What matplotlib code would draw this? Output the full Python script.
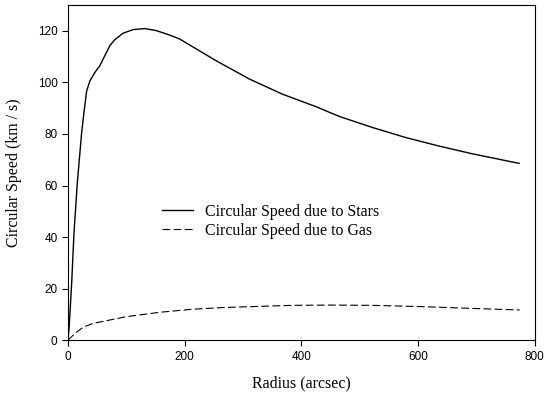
import numpy as np
import matplotlib.pyplot as plt

# rotation curve values
r_stars = [0, 2, 6.3, 10.3, 16, 23.4, 27.4, 32, 37.6, 46.2, 54.7, 63.2, 71.8, 80.3, 94.5,
           111.6, 131.6, 151.6, 174, 191, 254, 311, 368, 425, 465, 522, 579, 636, 693, 773]
v_stars = [0, 5, 22, 41.6, 61, 80.5, 88.3, 96.7, 100.6, 103.9, 106.5, 110.4, 114.3, 116.6, 119.1,
           120.5, 120.9, 120.1, 118.4, 116.9, 108.4, 101.3, 95.4, 90.6, 86.8, 82.5, 78.6, 75.3, 72.3, 68.6]

r_gas = [0, 12, 26, 43, 100, 157, 214, 271, 328, 385, 450, 521, 607, 693, 774]
v_gas = [0, 2.6, 5.0, 6.5, 9.1, 10.8, 12.0, 12.7, 13.1, 13.5, 13.6, 13.5, 13.0, 12.3, 11.7]

xticks = [0, 200, 400, 600, 800]
yticks = [0, 20, 40, 60, 80, 100, 120]

serif = 'Liberation Serif'
sans = 'Liberation Sans'

fig = plt.figure(figsize=(5.46, 4.03), dpi=100)
ax = fig.add_axes([0.1245, 0.156, 0.855, 0.8313])

ax.plot(r_stars, v_stars, color='black', lw=1.0, label='Circular Speed due to Stars')
ax.plot(r_gas, v_gas, color='black', lw=0.8, dashes=(7, 3), label='Circular Speed due to Gas')

ax.set_xlim(0, 800)
ax.set_ylim(0, 130)
ax.set_xticks(xticks)
ax.set_yticks(yticks)
ax.tick_params(direction='out', length=4, width=0.8, labelsize=8.5, top=False, right=False)
for lab in ax.get_xticklabels() + ax.get_yticklabels():
    lab.set_fontfamily(sans)
for s in ax.spines.values():
    s.set_linewidth(0.8)

ax.set_xlabel('Radius (arcsec)', fontfamily=serif, fontsize=11.4, labelpad=9)
ax.set_ylabel('Circular Speed (km / s)', fontfamily=serif, fontsize=11.4, labelpad=11.5)

leg = ax.legend(loc='center left', bbox_to_anchor=(0.184, 0.355), frameon=False,
                prop={'family': serif, 'size': 11.4}, handlelength=2.0, borderpad=0,
                handletextpad=0.75, labelspacing=0.2)

fig.savefig('out.png', dpi=100)
